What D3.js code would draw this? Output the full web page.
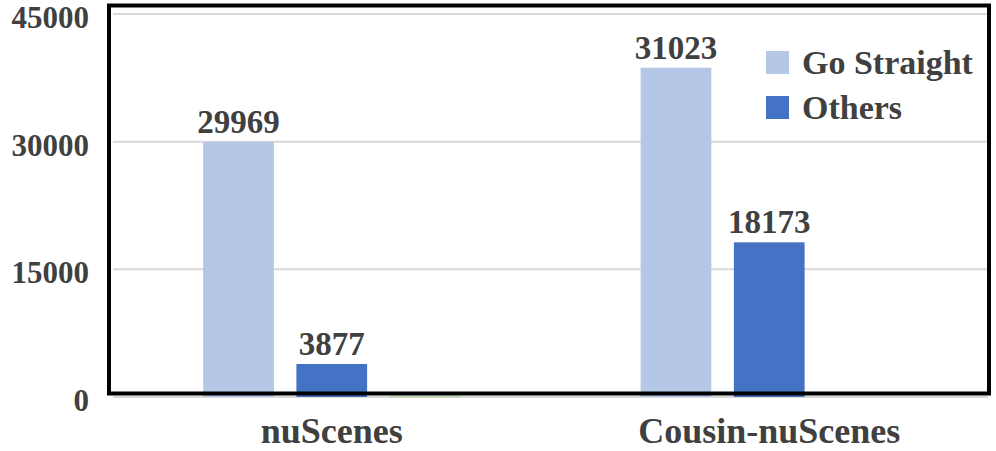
<!DOCTYPE html>
<html>
<head>
<meta charset="utf-8">
<script src="https://cdn.jsdelivr.net/npm/d3@7"></script>
<style>
  html, body { margin: 0; padding: 0; background: #fff; }
  svg { display: block; }
  text { font-family: "Liberation Serif", "Times New Roman", serif; font-weight: bold; fill: #404040; }
</style>
</head>
<body>
<svg id="chart" width="996" height="451"></svg>
<script>
// ---- data ----
const categories = ["nuScenes", "Cousin-nuScenes"];
const seriesNames = ["Go Straight", "Others", "Unlabeled"];
const goStraightBars = [29969, 38690];      // bar heights as drawn
const goStraightLabels = ["29969", "31023"]; // labels as printed
const othersBars = [3877, 18173];
const othersLabels = ["3877", "18173"];
const thirdBars = [80, 0];                   // near-zero green series
const yTicks = [0, 15000, 30000, 45000];
const legendNames = ["Go Straight", "Others"];

// ---- layout ----
const W = 996, H = 451;
const plot = { left: 113, right: 988, top: 14, bottom: 397 };
const colors = { "Go Straight": "#b4c7e7", "Others": "#4472c4", "Unlabeled": "#a9d18e" };

const svg = d3.select("#chart");

const y = d3.scaleLinear().domain([0, 45000]).range([plot.bottom, plot.top]);
const x0 = d3.scaleBand().domain(categories).range([plot.left, plot.right])
  .paddingInner(0.412).paddingOuter(0.206);
const x1 = d3.scaleBand().domain(seriesNames).range([0, x0.bandwidth()])
  .paddingInner(0.242).paddingOuter(0);

// gridlines
svg.append("g").selectAll("line").data(yTicks).join("line")
  .attr("x1", plot.left).attr("x2", plot.right)
  .attr("y1", d => y(d)).attr("y2", d => y(d))
  .attr("stroke", "#d9d9d9").attr("stroke-width", 2);

// y axis labels
const yAxis = d3.axisLeft(y).tickValues(yTicks).tickSize(0).tickPadding(0).tickFormat(d3.format("d"));
const gy = svg.append("g").attr("transform", "translate(89,3.5)").call(yAxis);
gy.select(".domain").remove();
gy.selectAll("text")
  .style("font-family", '"Liberation Serif", serif').style("font-weight", "bold")
  .style("font-size", "31px").attr("fill", "#404040");

// bars
const rows = categories.map((c, i) => ({
  cat: c,
  items: [
    { s: "Go Straight", v: goStraightBars[i], label: goStraightLabels[i] },
    { s: "Others", v: othersBars[i], label: othersLabels[i] },
    { s: "Unlabeled", v: thirdBars[i], label: null }
  ]
}));

const groups = svg.append("g").selectAll("g").data(rows).join("g")
  .attr("transform", d => `translate(${x0(d.cat)},0)`);

groups.selectAll("rect").data(d => d.items.filter(it => it.v > 0)).join("rect")
  .attr("x", d => x1(d.s))
  .attr("width", x1.bandwidth())
  .attr("y", d => y(d.v))
  .attr("height", d => Math.max(1, y(0) - y(d.v)))
  .attr("fill", d => colors[d.s]);

groups.selectAll("text.val").data(d => d.items.filter(it => it.label)).join("text")
  .attr("class", "val")
  .attr("x", d => x1(d.s) + x1.bandwidth() / 2)
  .attr("y", d => y(d.v) - 9)
  .attr("text-anchor", "middle")
  .style("font-size", "33px")
  .text(d => d.label);

// category labels
svg.append("g").selectAll("text").data(categories).join("text")
  .attr("x", d => x0(d) + x0.bandwidth() / 2)
  .attr("y", 443)
  .attr("text-anchor", "middle")
  .style("font-size", "36px")
  .text(d => d);

// plot border
svg.append("rect")
  .attr("x", 109).attr("y", 5.5).attr("width", 880).attr("height", 388)
  .attr("fill", "none").attr("stroke", "#000").attr("stroke-width", 4);

// legend
const legend = svg.append("g").selectAll("g").data(legendNames).join("g")
  .attr("transform", (d, i) => `translate(766,${51 + i * 45})`);
legend.append("rect").attr("width", 23).attr("height", 23).attr("fill", d => colors[d]);
legend.append("text").attr("x", 36).attr("y", 23).style("font-size", "34px").text(d => d);
</script>
</body>
</html>
